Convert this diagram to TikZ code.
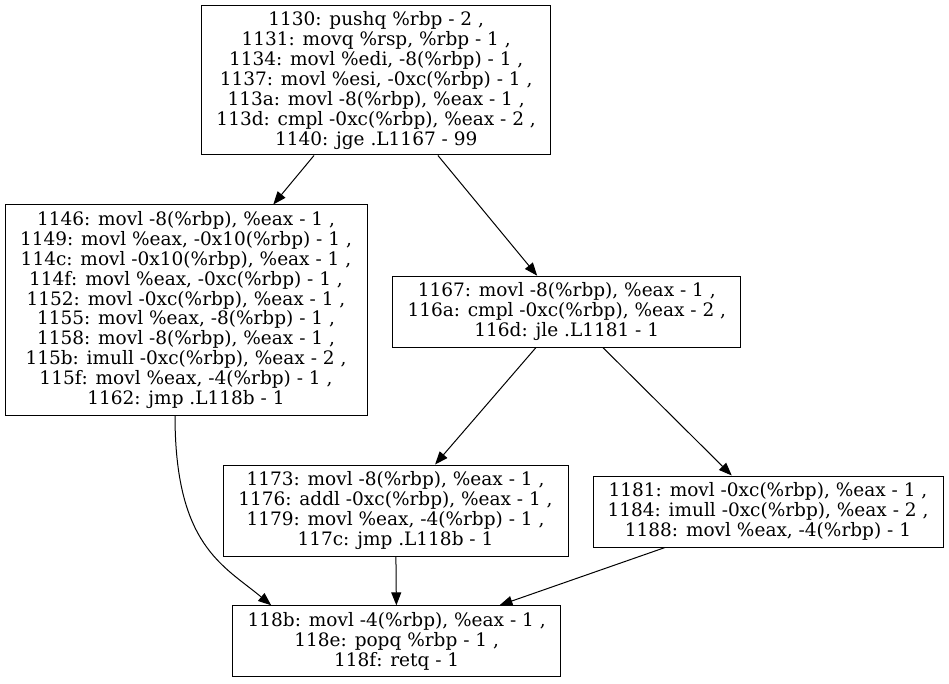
\documentclass[tikz,border=0pt]{standalone}
\usepackage{fontspec}
\setmainfont{DejaVu Serif}
\usetikzlibrary{arrows.meta,positioning}
\tikzset{
  bblock/.style={draw, line width=1pt, align=center, inner sep=0pt,
    font=\fontsize{18.5}{19.85}\selectfont},
  edge/.style={-{Triangle[length=13pt,width=10pt]}, line width=1pt},
}

\begin{document}
\begin{tikzpicture}[x=1pt,y=1pt]
  \useasboundingbox (0,0) rectangle (949,683);
  % basic blocks, placed where the layout put them
  \node[bblock, minimum width=349pt, minimum height=149pt] (b1130) at (376.2,602.5)
    {1130: pushq \%rbp - 2 ,\\1131: movq \%rsp, \%rbp - 1 ,\\1134: movl \%edi, -8(\%rbp) - 1 ,\\
     1137: movl \%esi, -0xc(\%rbp) - 1 ,\\113a: movl -8(\%rbp), \%eax - 1 ,\\
     113d: cmpl -0xc(\%rbp), \%eax - 2 ,\\1140: jge .L1167 - 99};
  \node[bblock, minimum width=362pt, minimum height=210pt] (b1146) at (186,373)
    {1146: movl -8(\%rbp), \%eax - 1 ,\\1149: movl \%eax, -0x10(\%rbp) - 1 ,\\
     114c: movl -0x10(\%rbp), \%eax - 1 ,\\114f: movl \%eax, -0xc(\%rbp) - 1 ,\\
     1152: movl -0xc(\%rbp), \%eax - 1 ,\\1155: movl \%eax, -8(\%rbp) - 1 ,\\
     1158: movl -8(\%rbp), \%eax - 1 ,\\115b: imull -0xc(\%rbp), \%eax - 2 ,\\
     115f: movl \%eax, -4(\%rbp) - 1 ,\\1162: jmp .L118b - 1};
  \node[bblock, minimum width=348pt, minimum height=71pt] (b1167) at (566.8,371.3)
    {1167: movl -8(\%rbp), \%eax - 1 ,\\116a: cmpl -0xc(\%rbp), \%eax - 2 ,\\116d: jle .L1181 - 1};
  \node[bblock, minimum width=345pt, minimum height=91pt] (b1173) at (395.5,172.5)
    {1173: movl -8(\%rbp), \%eax - 1 ,\\1176: addl -0xc(\%rbp), \%eax - 1 ,\\
     1179: movl \%eax, -4(\%rbp) - 1 ,\\117c: jmp .L118b - 1};
  \node[bblock, minimum width=350pt, minimum height=71pt] (b1181) at (768,171.5)
    {1181: movl -0xc(\%rbp), \%eax - 1 ,\\1184: imull -0xc(\%rbp), \%eax - 2 ,\\
     1188: movl \%eax, -4(\%rbp) - 1};
  \node[bblock, minimum width=328pt, minimum height=71pt] (b118b) at (396.7,41.7)
    {118b: movl -4(\%rbp), \%eax - 1 ,\\118e: popq \%rbp - 1 ,\\118f: retq - 1};
  % control flow
  \draw[edge] (b1130) -- (b1146);
  \draw[edge] (b1130) -- (b1167);
  \draw[edge] (b1167) -- (b1173);
  \draw[edge] (b1167) -- (b1181);
  \draw[edge] (b1173) -- (b118b);
  \draw[edge] (b1181) -- (b118b);
  \draw[edge] ([xshift=-11pt]b1146.south) .. controls +(0,-130) and +(-48,40) .. ([xshift=39pt]b118b.north west);
\end{tikzpicture}
\end{document}
